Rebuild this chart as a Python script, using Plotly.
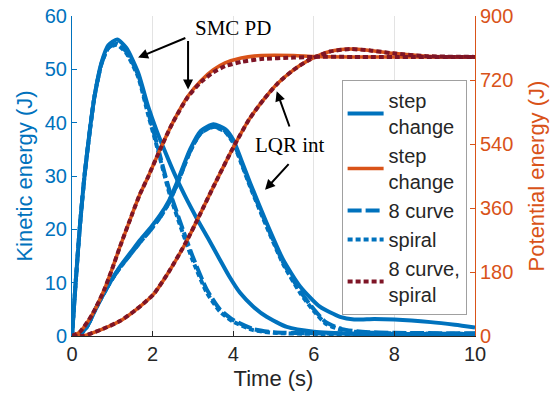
import plotly.graph_objects as go

# ---------------- data ----------------
# Kinetic energy (J), SMC PD
t_smc_k = [0, 0.1, 0.2, 0.31, 0.45, 0.56, 0.73, 0.9, 1.12, 1.35, 1.64, 1.89, 2.1, 2.27, 2.55, 2.8, 3.1, 3.4, 3.67, 3.9, 4.17, 4.5, 4.83, 5.33, 6, 7, 8, 10]
k_smc_step = [0, 11, 21, 30, 39, 45, 51.2, 54.5, 55.6, 54, 49.4, 43, 38.5, 35.3, 30.3, 26.3, 22, 18, 14.3, 11.2, 8.1, 5.5, 3.6, 1.7, 0.8, 0.4, 0.3, 0.2]
t_smc_k2 = [0, 0.1, 0.2, 0.31, 0.45, 0.56, 0.73, 0.9, 1.12, 1.35, 1.64, 1.89, 2.09, 2.3, 2.43, 2.76, 3.0, 3.34, 3.67, 4.0, 4.5, 5.0, 6, 8, 10]
k_smc_8 = [0, 11, 21, 30, 39, 45, 51, 54, 54.8, 53.3, 49, 42, 36.5, 30.5, 27, 19.8, 14.8, 8.8, 5.0, 3.0, 1.3, 0.7, 0.5, 0.4, 0.4]
k_smc_sp = [0, 11, 21, 30, 39, 45, 51, 54, 54.6, 53, 48.6, 41.5, 36, 30, 26.4, 19.1, 14.1, 8.2, 4.6, 2.7, 1.1, 0.6, 0.4, 0.3, 0.3]

# Kinetic energy (J), LQR int
t_lqr_k = [0, 0.15, 0.37, 0.6, 0.94, 1.19, 1.45, 1.69, 1.95, 2.18, 2.4, 2.6, 2.93, 3.2, 3.51, 3.8, 4.0, 4.2, 4.42, 4.83, 5.24, 5.66, 6.15, 6.65, 7.0, 7.5, 8.0, 8.9, 9.5, 10]
k_lqr_step = [0, 0, 1.7, 5.3, 10, 13, 15.6, 18, 20.3, 22.6, 25.3, 28.7, 35, 38.5, 39.7, 38.8, 36.8, 33, 28.7, 21.2, 14.3, 9.3, 5.5, 3.6, 3.1, 3.2, 3.1, 2.6, 2.1, 1.6]
t_lqr_k2 = [0, 0.15, 0.37, 0.6, 0.94, 1.19, 1.45, 1.69, 1.95, 2.18, 2.4, 2.6, 2.93, 3.2, 3.51, 3.8, 4.0, 4.2, 4.42, 4.83, 5.24, 5.66, 6.0, 6.3, 6.7, 7.2, 8.0, 10]
k_lqr_8 = [0, 0, 1.7, 5.3, 10, 12.8, 15.3, 17.6, 19.9, 22.2, 24.9, 28.3, 34.6, 38.1, 39.3, 38.4, 36.4, 32.6, 28.3, 20.8, 13.8, 8.4, 5.0, 2.6, 1.3, 0.8, 0.6, 0.5]
k_lqr_sp = [0, 0, 1.7, 5.3, 10, 12.8, 15.3, 17.6, 19.9, 22.2, 24.9, 28.3, 34.6, 38.1, 39.2, 38.3, 36.2, 32.4, 28.0, 20.5, 13.5, 8.1, 4.7, 2.3, 1.1, 0.7, 0.5, 0.4]

# Potential energy (J), SMC PD
t_smc_p = [0, 0.2, 0.5, 0.8, 1.0, 1.19, 1.5, 1.69, 1.89, 2.18, 2.5, 2.88, 3.2, 3.5, 3.8, 4.2, 4.7, 5.5, 6, 7, 10]
p_smc_step = [0, 12, 60, 130, 190, 251, 345, 400, 448, 523, 600, 675, 718, 748, 768, 782, 789, 789, 786, 785, 785]
p_smc_8sp = [0, 12, 60, 130, 190, 251, 345, 400, 448, 523, 600, 673, 714, 741, 759, 771, 779, 783, 785, 785, 785]

# Potential energy (J), LQR int
t_lqr_p = [0, 0.3, 0.77, 1.19, 1.6, 2.02, 2.4, 2.85, 3.18, 3.51, 4.0, 4.4, 4.75, 5.1, 5.49, 5.91, 6.4, 6.9, 7.4, 7.97, 8.8, 10]
p_lqr_step = [0, 1, 20, 42, 75, 117, 180, 268, 343, 420, 530, 610, 664, 710, 748, 778, 800, 807, 803, 795, 787, 785]
p_lqr_8sp = [0, 1, 20, 42, 75, 117, 180, 268, 343, 420, 530, 610, 664, 710, 748, 778, 800, 807, 803, 795, 787, 785]

x_ticks = [0, 2, 4, 6, 8, 10]
k_ticks = [0, 10, 20, 30, 40, 50, 60]
p_ticks = [0, 180, 360, 540, 720, 900]

BLUE = "#0072BD"
ORANGE = "#D95319"
DRED = "#7E1526"
DASH = "14px,4px"
DOT = "5px,3px"

fig = go.Figure()

def add(x, y, color, dash, width, name, axis, show):
    fig.add_trace(go.Scatter(
        x=x, y=y, mode="lines", name=name, yaxis=axis, showlegend=show,
        line=dict(color=color, dash=dash, width=width, shape="spline", smoothing=0.6),
        hoverinfo="skip"))

# kinetic
add(t_smc_k, k_smc_step, BLUE, "solid", 4, "step<br>change", "y", True)
add(t_lqr_k, k_lqr_step, BLUE, "solid", 4, "step<br>change", "y", False)
# potential solid
add(t_smc_p, p_smc_step, ORANGE, "solid", 3.5, "step<br>change", "y2", True)
add(t_lqr_p, p_lqr_step, ORANGE, "solid", 3.5, "step<br>change", "y2", False)
# kinetic dashed/dotted
add(t_smc_k2, k_smc_8, BLUE, DASH, 4, "8 curve", "y", True)
add(t_lqr_k2, k_lqr_8, BLUE, DASH, 4, "8 curve", "y", False)
add(t_smc_k2, k_smc_sp, BLUE, DOT, 4, "spiral", "y", True)
add(t_lqr_k2, k_lqr_sp, BLUE, DOT, 4, "spiral", "y", False)
# potential dotted
add(t_smc_p, p_smc_8sp, DRED, DOT, 4, "8 curve,<br>spiral", "y2", True)
add(t_lqr_p, p_lqr_8sp, DRED, DOT, 4, "8 curve,<br>spiral", "y2", False)

TXT = "#262626"
SANS = "Liberation Sans, Arial, sans-serif"
SERIF = "Liberation Serif, Times New Roman, serif"

annos = [
    dict(x=4.0, y=57.7, text="SMC PD", showarrow=False),
    dict(x=5.42, y=35.8, text="LQR int", showarrow=False),
    dict(x=1.64, y=52.2, ax=2.85, ay=56.0, text="", showarrow=True),
    dict(x=2.88, y=46.2, ax=2.88, ay=55.6, text="", showarrow=True),
    dict(x=5.08, y=45.9, ax=5.41, ay=39.0, text="", showarrow=True),
    dict(x=4.79, y=27.4, ax=5.41, ay=32.5, text="", showarrow=True),
]
for a in annos:
    base = dict(xref="x", yref="y", font=dict(family=SERIF, size=21, color="black"))
    if a.get("showarrow"):
        base.update(axref="x", ayref="y", arrowhead=2, arrowsize=1, arrowwidth=2,
                    arrowcolor="black", standoff=0, startstandoff=0)
    base.update(a)
    fig.add_annotation(**base)

fig.update_layout(
    width=559, height=396,
    margin=dict(l=72, r=84, t=16, b=60, autoexpand=False),
    paper_bgcolor="white", plot_bgcolor="white",
    font=dict(family=SANS, size=20, color=TXT),
    xaxis=dict(range=[0, 10], tickvals=x_ticks, ticks="inside", ticklen=5, tickcolor=TXT,
               showline=True, linecolor=TXT, linewidth=1, mirror=False, automargin=False,
               showgrid=True, gridcolor="#E3E3E3", gridwidth=1, zeroline=False,
               title=dict(text="Time (s)", font=dict(size=22, color=TXT), standoff=6),
               tickfont=dict(size=20, color=TXT)),
    yaxis=dict(range=[0, 60], tickvals=k_ticks, ticks="inside", ticklen=5, tickcolor=BLUE,
               showline=True, linecolor=BLUE, linewidth=1, showgrid=False, zeroline=False,
               automargin=False,
               title=dict(text="Kinetic energy (J)", font=dict(size=22, color=BLUE), standoff=6),
               tickfont=dict(size=20, color=BLUE)),
    yaxis2=dict(range=[0, 900], tickvals=p_ticks, ticks="inside", ticklen=5, tickcolor=ORANGE,
                overlaying="y", side="right", anchor="x", automargin=False,
                showline=True, linecolor=ORANGE, linewidth=1, showgrid=False, zeroline=False,
                title=dict(text="Potential energy (J)", font=dict(size=22, color=ORANGE), standoff=16),
                tickfont=dict(size=20, color=ORANGE)),
    legend=dict(x=0.669, y=0.80, xanchor="left", yanchor="top",
                bgcolor="white", bordercolor="#A0A0A0", borderwidth=1,
                font=dict(size=20, color=TXT), itemwidth=36, tracegroupgap=0,
                valign="middle"),
    showlegend=True,
)

fig.write_html("out.html", config={"displayModeBar": False},
               post_script="document.body.style.margin='0';document.body.style.padding='0';")
